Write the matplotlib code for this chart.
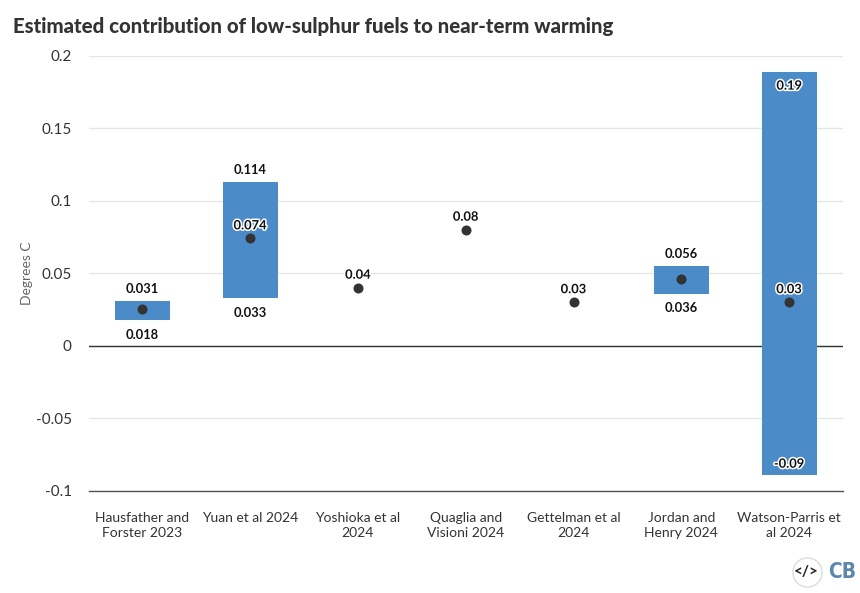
import matplotlib
matplotlib.use("Agg")
import matplotlib.pyplot as plt
import matplotlib.patheffects as pe

studies = ["Hausfather and\nForster 2023", "Yuan et al 2024", "Yoshioka et al\n2024",
           "Quaglia and\nVisioni 2024", "Gettelman et al\n2024", "Jordan and\nHenry 2024",
           "Watson-Parris et\nal 2024"]
central = [0.025, 0.074, 0.04, 0.08, 0.03, 0.046, 0.03]
central_labels = [None, "0.074", "0.04", "0.08", "0.03", None, "0.03"]
low = [0.018, 0.033, None, None, None, 0.036, -0.089]
high = [0.031, 0.113, None, None, None, 0.055, 0.189]
low_labels = ["0.018", "0.033", None, None, None, "0.036", "-0.09"]
high_labels = ["0.031", "0.114", None, None, None, "0.056", "0.19"]
yticks = [-0.1, -0.05, 0, 0.05, 0.1, 0.15, 0.2]
ylabels = ["-0.1", "-0.05", "0", "0.05", "0.1", "0.15", "0.2"]

W, H = 860, 593
plt.rcParams['font.family'] = ['Lato', 'DejaVu Sans']
fig = plt.figure(figsize=(W/100, H/100), dpi=100, facecolor="white")
ax = fig.add_axes([88.5/W, 1-490.7/H, (843-88.5)/W, (490.7-55.7)/H])
ax.set_xlim(-0.5, 6.5)
ax.set_ylim(-0.1, 0.2)
for s in ax.spines.values():
    s.set_visible(False)
ax.spines['bottom'].set_visible(True)
ax.spines['bottom'].set_color("#555555")
ax.spines['bottom'].set_linewidth(1.0)
ax.set_axisbelow(True)
ax.yaxis.grid(True, color="#e6e6e6", lw=1)
ax.axhline(0, color="#333333", lw=1, zorder=2)
ax.set_yticks(yticks)
ax.set_yticklabels(ylabels, fontsize=11, color="#333333")
ax.set_xticks(range(7))
ax.set_xticklabels(studies, fontsize=10, color="#333333", linespacing=1.3)
ax.tick_params(axis='both', length=0)
ax.tick_params(axis='y', pad=12)
ax.tick_params(axis='x', pad=15)
ax.set_ylabel("Degrees C", fontsize=10, color="#666666")
ax.yaxis.set_label_coords((33-88.5)/(843-88.5), 0.5)

halo = [pe.withStroke(linewidth=2.2, foreground="white")]
lab = dict(ha="center", va="center", fontsize=9.3, fontweight="bold", color="#111111", zorder=5)
for i, (l, h) in enumerate(zip(low, high)):
    if l is None:
        continue
    ax.bar(i, h-l, bottom=l, width=0.51, color="#4a8bc8", zorder=3)
    inside = h > 0.15
    ax.annotate(high_labels[i], (i, h), xytext=(0, -14 if inside else 12), textcoords="offset pixels",
                path_effects=halo if inside else None, **lab)
    ax.annotate(low_labels[i], (i, l), xytext=(0, 11 if inside else -15), textcoords="offset pixels",
                path_effects=halo if inside else None, **lab)
ax.scatter(range(7), central, s=52, color="#333333", zorder=4, linewidths=0)
for i, (c, t) in enumerate(zip(central, central_labels)):
    if t:
        ax.annotate(t, (i, c), xytext=(0, 13), textcoords="offset pixels",
                    path_effects=halo, **lab)

fig.text(13/W, 1-26/H, "Estimated contribution of low-sulphur fuels to near-term warming",
         fontsize=14.65, fontweight="black", color="#333333", va="center")

# logos
fig.add_artist(plt.Line2D([806.5/W], [1-572/H], marker='o', ms=21, mfc='white', mec='#dddddd', mew=1,
                          transform=fig.transFigure))
fig.text(806.5/W, 1-572/H, "</>", fontsize=11, fontweight="bold", color="#222222", ha="center", va="center")
fig.text(842/W, 1-572/H, "CB", fontsize=15, fontweight="bold", color="#5b87ad", ha="center", va="center",
         family=['DejaVu Sans'], stretch="condensed")
fig.savefig("out.png", dpi=100)
